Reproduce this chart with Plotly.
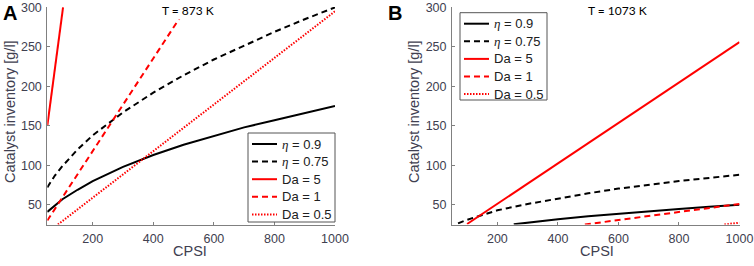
import plotly.graph_objects as go

# ---- data ----
# Panel A, T = 873 K
a_eta09_x = [50, 100, 150, 200, 300, 400, 500, 600, 700, 800, 900, 1000]
a_eta09_y = [41, 57, 69, 80, 98, 113, 126, 137, 148, 157, 166, 175]
a_eta075_x = [50, 75, 100, 150, 200, 300, 400, 500, 600, 700, 800, 900, 1000]
a_eta075_y = [72, 87, 99, 120, 138, 167, 192, 214, 234, 252, 269, 285, 300]
a_da5_x = [50, 102]
a_da5_y = [150, 300]
a_da1_x = [50, 510]
a_da1_y = [30, 300]
a_da05_x = [85, 1000]
a_da05_y = [25, 295]

# Panel B, T = 1073 K
b_eta09_x = [254, 300, 400, 500, 600, 700, 800, 900, 1000]
b_eta09_y = [25.2, 27.4, 31.6, 35.3, 38.7, 41.8, 44.7, 47.4, 50]
b_eta075_x = [70, 100, 150, 200, 300, 400, 500, 600, 700, 800, 900, 1000]
b_eta075_y = [26.5, 31, 37, 43, 51, 58, 64.5, 70.5, 75.5, 80, 84, 88]
b_da5_x = [100, 1000]
b_da5_y = [25.6, 256]
b_da1_x = [489, 1000]
b_da1_y = [25, 51]
b_da05_x = [950, 1000]
b_da05_y = [25, 27.3]

x_ticks = [200, 400, 600, 800, 1000]
y_ticks = [50, 100, 150, 200, 250, 300]
x_range = [50, 1000]
y_range = [25, 300.5]

names = ["<span style='font-family:Liberation Serif'><i>η</i></span> = 0.9",
         "<span style='font-family:Liberation Serif'><i>η</i></span> = 0.75",
         "Da = 5", "Da = 1", "Da = 0.5"]
colors = ["black", "black", "#ff0000", "#ff0000", "#ff0000"]
dashes = ["solid", "6px,4px", "solid", "6px,4px", "1.5px,1.5px"]

W, H = 754, 266
fig = go.Figure()

panels = [
    ("x", "y", [(a_eta09_x, a_eta09_y), (a_eta075_x, a_eta075_y),
                (a_da5_x, a_da5_y), (a_da1_x, a_da1_y), (a_da05_x, a_da05_y)]),
    ("x2", "y2", [(b_eta09_x, b_eta09_y), (b_eta075_x, b_eta075_y),
                  (b_da5_x, b_da5_y), (b_da1_x, b_da1_y), (b_da05_x, b_da05_y)]),
]
for xa, ya, series in panels:
    for (xs, ys), nm, c, d in zip(series, names, colors, dashes):
        fig.add_trace(go.Scatter(x=xs, y=ys, mode="lines", name=nm, xaxis=xa, yaxis=ya,
                                 showlegend=False, line=dict(color=c, width=2, dash=d)))

axis_common = dict(showgrid=False, zeroline=False, showline=True,
                   linecolor="#808080", linewidth=1, ticks="inside", ticklen=3,
                   tickcolor="#808080", tickfont=dict(family="Liberation Sans", size=12.5, color="#404050"),
                   automargin=False, mirror=False, ticklabelstandoff=2, ticklabeloverflow="allow")

ydom = [1 - 224.5 / H, 1 - 7 / H]
fig.update_layout(
    width=W, height=H, margin=dict(l=0, r=0, t=0, b=0),
    paper_bgcolor="white", plot_bgcolor="white", showlegend=False,
    xaxis=dict(axis_common, range=x_range, tickvals=x_ticks, domain=[47.3 / W, 335 / W], anchor="y"),
    yaxis=dict(axis_common, range=y_range, tickvals=y_ticks, domain=ydom, anchor="x"),
    xaxis2=dict(axis_common, range=x_range, tickvals=x_ticks, domain=[452 / W, 739.5 / W], anchor="y2"),
    yaxis2=dict(axis_common, range=y_range, tickvals=y_ticks, domain=ydom, anchor="x2"),
)

# ---- legend boxes (drawn in paper space, MATLAB-style compact legend) ----
legend_boxes = [(248, 133, 335, 222), (460, 12.7, 547, 100)]  # left, top, right, bottom (px)
row_gap = 17.6
first_row = 11
sample_x0, sample_x1, text_x = 4, 29, 32
for (l, t, r, b) in legend_boxes:
    fig.add_shape(type="rect", xref="paper", yref="paper",
                  x0=l / W, x1=r / W, y0=1 - b / H, y1=1 - t / H,
                  line=dict(color="#555555", width=1), fillcolor="white", layer="above")
    for i, (nm, c, d) in enumerate(zip(names, colors, dashes)):
        yy = t + first_row + i * row_gap
        fig.add_shape(type="line", xref="paper", yref="paper",
                      x0=(l + sample_x0) / W, x1=(l + sample_x1) / W, y0=1 - yy / H, y1=1 - yy / H,
                      line=dict(color=c, width=2, dash=d), layer="above")
        fig.add_annotation(text=nm, xref="paper", yref="paper", x=(l + text_x) / W, y=1 - yy / H,
                           xanchor="left", yanchor="middle", showarrow=False,
                           font=dict(family="Liberation Sans", size=13, color="#202020"))

ann_font = dict(family="Liberation Sans", size=14.5, color="#404050")
anns = [
    dict(text="Catalyst inventory [g/l]", x=10 / W, y=1 - 112 / H, textangle=-90, font=ann_font),
    dict(text="Catalyst inventory [g/l]", x=414 / W, y=1 - 112 / H, textangle=-90, font=ann_font),
    dict(text="CPSI", x=190 / W, y=1 - 251 / H, font=ann_font),
    dict(text="CPSI", x=597 / W, y=1 - 251 / H, font=ann_font),
    dict(text="T = 873 K", x=188 / W, y=1 - 11 / H, bgcolor="white",
         font=dict(family="Lato", size=12, color="black")),
    dict(text="T = 1073 K", x=617 / W, y=1 - 11 / H, bgcolor="white",
         font=dict(family="Lato", size=12, color="black")),
    dict(text="<b>A</b>", x=10 / W, y=1 - 13 / H, font=dict(family="Liberation Sans", size=20, color="black")),
    dict(text="<b>B</b>", x=395 / W, y=1 - 13 / H, font=dict(family="Liberation Sans", size=20, color="black")),
]
for a in anns:
    a.update(xref="paper", yref="paper", showarrow=False, xanchor="center", yanchor="middle")
    fig.add_annotation(**a)

fig.write_html("out.html", config={"displayModeBar": False},
               post_script="document.body.style.margin='0';document.body.style.overflow='hidden';")
